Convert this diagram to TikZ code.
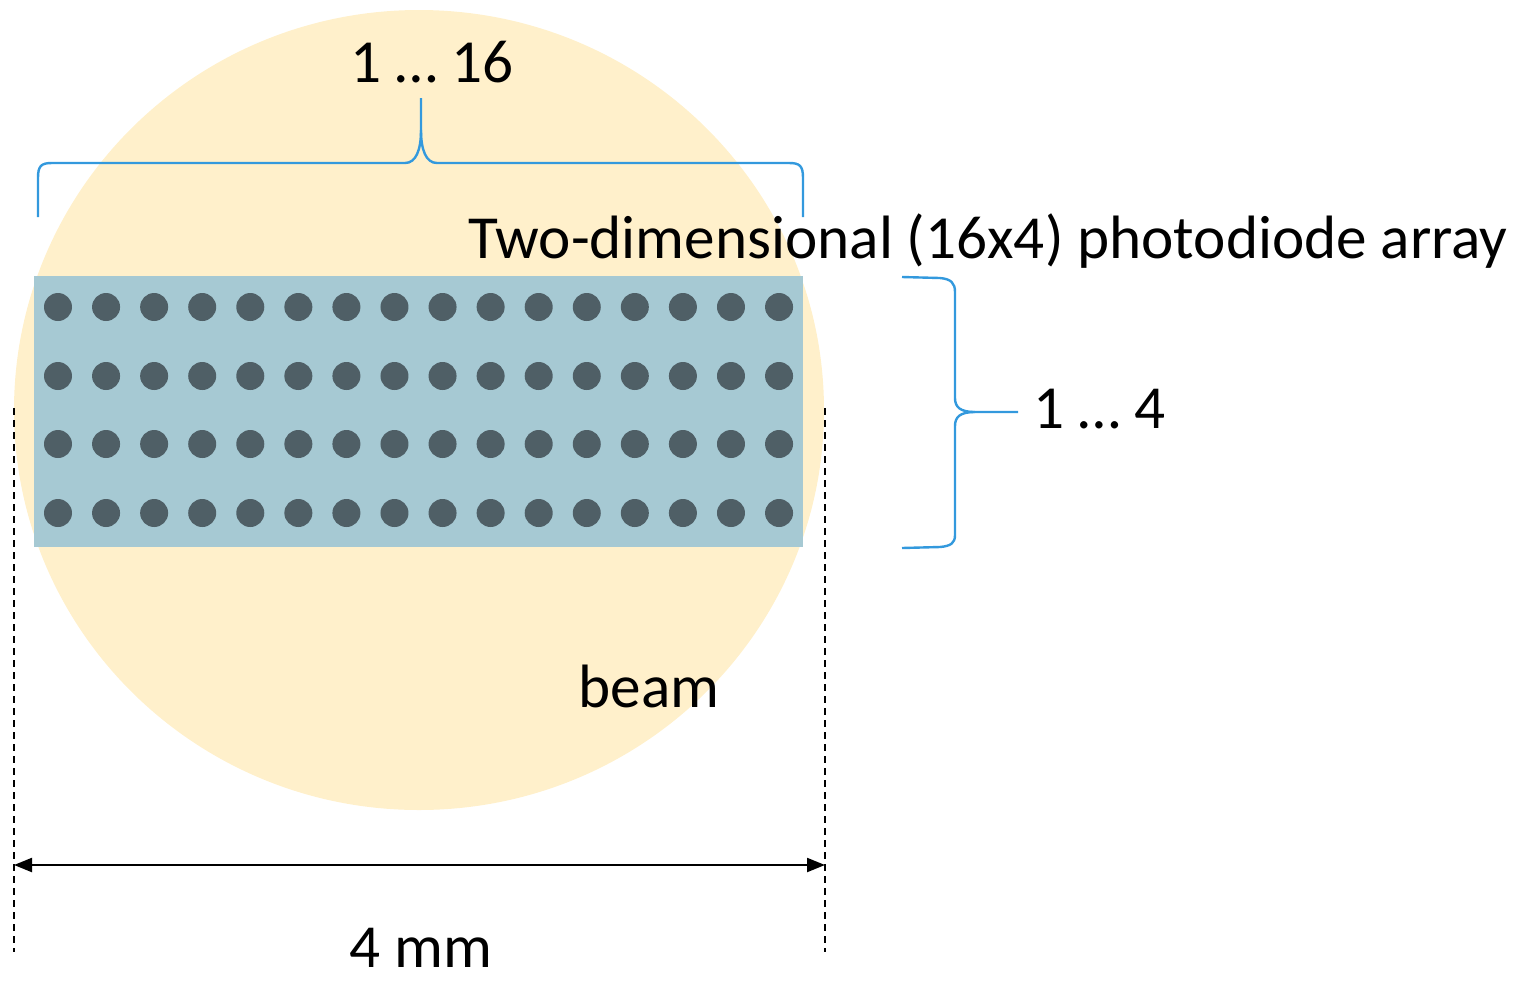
\documentclass[tikz,border=0pt]{standalone}
\usepackage{fontspec}
\setmainfont{Carlito}
\usetikzlibrary{arrows.meta,shapes.geometric}
\definecolor{beamc}{HTML}{FFF0CB}
\definecolor{arrayc}{HTML}{A6C9D3}
\definecolor{dotc}{HTML}{4F5F66}
\definecolor{bracec}{HTML}{3399DD}
\begin{document}
\begin{tikzpicture}[x=0.5pt,y=-0.5pt,
  lbl/.style={font=\fontsize{30.6}{36}\selectfont, inner sep=0pt, text=black},
  bracepath/.style={draw=bracec, line width=1.2pt, line join=round},
  dimline/.style={draw=black, line width=1.1pt},
  dashline/.style={draw=black, line width=1.4pt, dash pattern=on 3.5pt off 2.5pt},
  pixel/.style={circle, fill=dotc, minimum size=14pt, inner sep=0pt, draw=none}]
\useasboundingbox (0,0) rectangle (1517,982);
% beam
\node[ellipse, fill=beamc, draw=none, minimum width=405pt, minimum height=400pt, inner sep=0pt] (beam) at (419,410) {};
% array
\node[fill=arrayc, draw=none, minimum width=384.5pt, minimum height=135.5pt, inner sep=0pt, anchor=north west] (array) at (34,276) {};
\foreach \r/\yy in {1/307,2/376,3/444,4/513}{
  \foreach \c in {1,...,16}{
    \node[pixel] (p\r-\c) at ({58+(\c-1)*48.07},\yy) {};
  }
}
% top brace
\coordinate (tbL) at (38,217);
\coordinate (tbR) at (803,217);
\coordinate (tbT) at (421,98);
\draw[bracepath] (tbL) -- (38,178) .. controls (38,166) and (41,163) .. (52,163)
  -- (405,163) .. controls (416,163) and (421,150) .. (421,130) -- (tbT);
\draw[bracepath] (421,130) .. controls (421,150) and (426,163) .. (437,163)
  -- (789,163) .. controls (800,163) and (803,166) .. (803,178) -- (tbR);
\node[lbl, anchor=base] (n16) at (432,82) {1 … 16};
% right brace
\coordinate (rbT) at (902,277);
\coordinate (rbB) at (902,548);
\coordinate (rbP) at (1018,412);
\draw[bracepath] (rbT) -- (940,278) .. controls (951,279) and (955,283) .. (955,292)
  -- (955,398) .. controls (955,407) and (960,412) .. (975,412) -- (rbP);
\draw[bracepath] (975,412) .. controls (960,412) and (955,417) .. (955,426)
  -- (955,535) .. controls (955,543) and (951,546) .. (940,547) -- (rbB);
\node[lbl, anchor=base west] (n4) at (1033,428) {1 … 4};
\node[lbl, anchor=base west] (title) at (468,258) {Two-dimensional (16x4) photodiode array};
\node[lbl, anchor=base] (beamlbl) at (649,707) {beam};
% dimension
\coordinate (dL1) at (14,408);
\coordinate (dL2) at (14,952);
\coordinate (dR1) at (825,408);
\coordinate (dR2) at (825,952);
\draw[dashline] (dL1) -- (dL2);
\draw[dashline] (dR1) -- (dR2);
\coordinate (aL) at (14,865);
\coordinate (aR) at (825,865);
\draw[dimline, {Triangle[length=9pt,width=7pt]}-{Triangle[length=9pt,width=7pt]}] (aL) -- (aR);
\node[lbl, anchor=base] (mm) at (421,967) {4 mm};
\end{tikzpicture}
\end{document}
